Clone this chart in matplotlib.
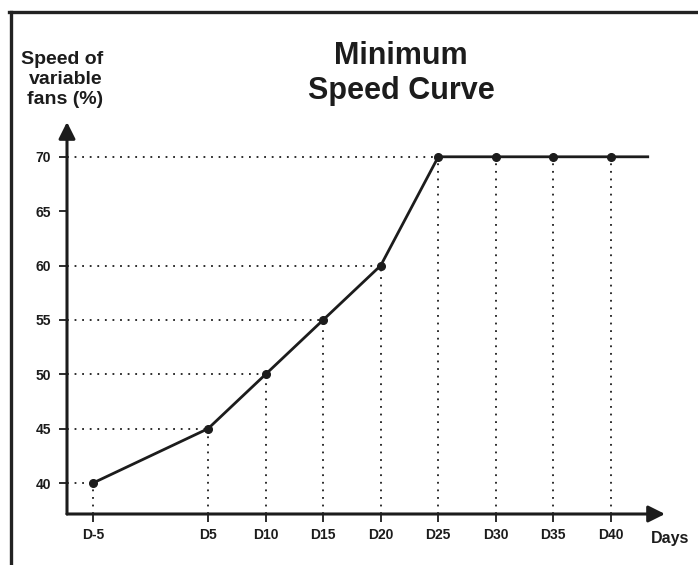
import matplotlib
matplotlib.use("Agg")
import matplotlib.pyplot as plt
from matplotlib.lines import Line2D

plt.rcParams['font.family'] = ['Liberation Sans', 'DejaVu Sans']

days = [-5, 5, 10, 15, 20, 25, 30, 35, 40]
day_labels = ['D-5', 'D5', 'D10', 'D15', 'D20', 'D25', 'D30', 'D35', 'D40']
speed = [40, 45, 50, 55, 60, 70, 70, 70, 70]
line_end_day = 43.2
y_ticks = [40, 45, 50, 55, 60, 65, 70]
guide_levels = [40, 45, 50, 55, 60, 70]

W, H = 698, 565
fig = plt.figure(figsize=(W / 100, H / 100), dpi=100)
dark = '#1c1c1c'

# axes placement (pixels)
x0, x1 = 67, 665
y0, y1 = 514, 122
ax = fig.add_axes([x0 / W, 1 - y0 / H, (x1 - x0) / W, (y0 - y1) / H])
XMIN, XMAX = -7.26, 44.70
YMIN, YMAX = 37.15, 73.2
ax.set_xlim(XMIN, XMAX)
ax.set_ylim(YMIN, YMAX)
for s in ax.spines.values():
    s.set_visible(False)

# dotted guides
for d, v in zip(days, speed):
    ax.plot([d, d], [YMIN, v], ls=(0, (1, 3.2)), lw=1.3, color=dark, zorder=1)
for lv in guide_levels:
    d_first = days[speed.index(lv)]
    ax.plot([XMIN, d_first], [lv, lv], ls=(0, (1, 3.2)), lw=1.3, color=dark, zorder=1)

# curve
ax.plot(days + [line_end_day], speed + [speed[-1]], color=dark, lw=2.0, zorder=3)
ax.plot(days, speed, 'o', color=dark, ms=5.5, zorder=4)

# arrows as axes
arrow_kw = dict(arrowstyle='-|>,head_length=1.0,head_width=0.5', lw=2.2, color=dark,
                shrinkA=0, shrinkB=0, mutation_scale=10)
ax.annotate('', xy=(1, 0), xytext=(0, 0), xycoords='axes fraction', arrowprops=arrow_kw, annotation_clip=False)
ax.annotate('', xy=(0, 1), xytext=(0, 0), xycoords='axes fraction', arrowprops=arrow_kw, annotation_clip=False)

ax.set_xticks(days)
ax.set_xticklabels(day_labels, fontsize=10, fontweight='bold', color=dark)
ax.set_yticks(y_ticks)
ax.set_yticklabels([str(v) for v in y_ticks], fontsize=10, fontweight='bold', color=dark)
ax.tick_params(axis='both', length=5.5, width=1.3, color=dark)
ax.tick_params(axis='y', pad=6)
ax.tick_params(axis='x', pad=4.5)

# texts
fig.text(401 / W, 1 - 41 / H, 'Minimum\nSpeed Curve', ha='center', va='top', fontsize=22,
         fontweight='bold', color=dark, linespacing=1.22)
fig.text(103 / W, 1 - 51 / H, 'Speed of\nvariable\nfans (%)', ha='right', va='top', fontsize=14,
         fontweight='bold', color=dark, linespacing=1.25)
fig.text(670 / W, 1 - 538 / H, 'Days', ha='center', va='center', fontsize=11.5,
         fontweight='bold', color=dark)

# frame (left + top)
fig.add_artist(Line2D([10.5 / W, 10.5 / W], [0, 1 - 11.5 / H], transform=fig.transFigure, color='#222222', lw=2.4))
fig.add_artist(Line2D([9.3 / W, 1], [1 - 11.5 / H, 1 - 11.5 / H], transform=fig.transFigure, color='#222222', lw=2.4))

fig.savefig('out.png', dpi=100)
